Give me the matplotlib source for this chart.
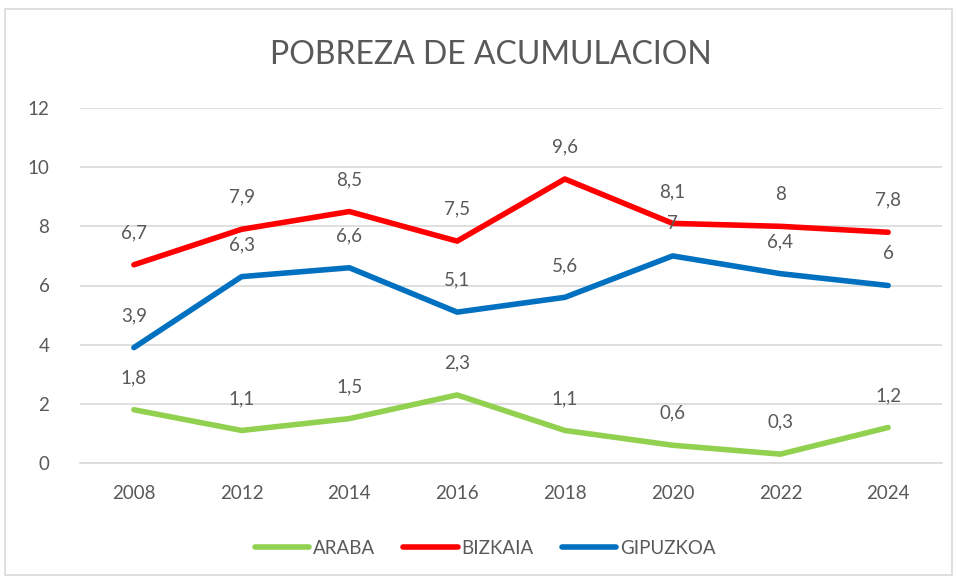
import matplotlib
matplotlib.use("Agg")
import matplotlib.pyplot as plt
from matplotlib.patches import Rectangle

YEARS    = ["2008", "2012", "2014", "2016", "2018", "2020", "2022", "2024"]
ARABA    = [1.8, 1.1, 1.5, 2.3, 1.1, 0.6, 0.3, 1.2]
BIZKAIA  = [6.7, 7.9, 8.5, 7.5, 9.6, 8.1, 8.0, 7.8]
GIPUZKOA = [3.9, 6.3, 6.6, 5.1, 5.6, 7.0, 6.4, 6.0]
SERIES   = [("ARABA", ARABA, "#92D050"),
            ("BIZKAIA", BIZKAIA, "#FF0000"),
            ("GIPUZKOA", GIPUZKOA, "#0070C0")]

TEXT = "#595959"
plt.rcParams["font.family"] = ["Lato", "DejaVu Sans"]


def fmt(v):
    s = f"{v:g}"
    return s.replace(".", ",")


fig = plt.figure(figsize=(9.57, 5.79), dpi=100)
fig.patches.append(Rectangle((5 / 957, 4 / 579), 947 / 957, 566 / 579,
                             transform=fig.transFigure, fill=False,
                             edgecolor="#D9D9D9", linewidth=1.2))

ax = fig.add_axes([80 / 957, 116 / 579, 862 / 957, 355 / 579])
x = list(range(len(YEARS)))

for name, vals, color in SERIES:
    ax.plot(x, vals, color=color, linewidth=4, solid_capstyle="round",
            solid_joinstyle="round", label=name, zorder=3)
    for xi, v in zip(x, vals):
        ax.annotate(fmt(v), (xi, v), xytext=(0, 23), textcoords="offset points",
                    ha="center", va="center", fontsize=13.5, color=TEXT, zorder=4)

ax.set_xlim(-0.5, len(YEARS) - 0.5)
ax.set_ylim(0, 12)
ax.set_yticks(range(0, 13, 2))
ax.set_xticks(x, YEARS)
ax.grid(axis="y", color="#D9D9D9", linewidth=1.2)
ax.set_axisbelow(True)
for sp in ["top", "right", "left"]:
    ax.spines[sp].set_visible(False)
ax.spines["bottom"].set_color("#D9D9D9")
ax.spines["bottom"].set_linewidth(1.2)
ax.tick_params(axis="both", length=0, labelsize=13.5, labelcolor=TEXT)
ax.tick_params(axis="y", pad=22)
ax.tick_params(axis="x", pad=16)

fig.text(491 / 957, 1 - 55 / 579, "POBREZA DE ACUMULACION", ha="center",
         va="center", fontsize=23, color=TEXT)

leg = fig.legend(loc="center", bbox_to_anchor=(485 / 957, 1 - 548 / 579),
                 ncol=3, frameon=False, fontsize=13.5, handlelength=2.9,
                 handletextpad=0.2, columnspacing=1.5, labelcolor=TEXT)
for line in leg.get_lines():
    line.set_solid_capstyle("round")

fig.savefig("out.png", dpi=100)
